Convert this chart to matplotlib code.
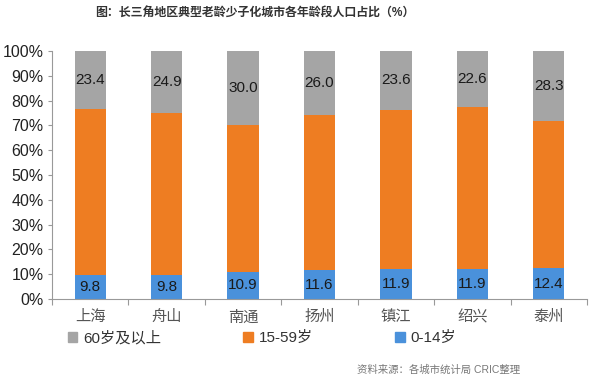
import matplotlib
matplotlib.use("Agg")
import matplotlib.pyplot as plt
from matplotlib.patches import Patch
import numpy as np

plt.rcParams['font.family'] = ['Liberation Sans', 'Noto Sans CJK SC', 'DejaVu Sans']

cities = ['上海', '舟山', '南通', '扬州', '镇江', '绍兴', '泰州']
kids = [9.8, 9.8, 10.9, 11.6, 11.9, 11.9, 12.4]      # 0-14岁
elders = [23.4, 24.9, 30.0, 26.0, 23.6, 22.6, 28.3]  # 60岁及以上
labels = ['60岁及以上', '15-59岁', '0-14岁']

kids = np.array(kids)
elders = np.array(elders)
mid = 100 - kids - elders

c_gray = '#A5A5A5'
c_orange = '#EE7D22'
c_blue = '#4A91DB'

fig = plt.figure(figsize=(6, 3.81), dpi=100)
ax = fig.add_axes([52/600, 1 - 299/381, 535/600, 248/381])

x = np.arange(len(cities))
w = 0.41
ax.bar(x, kids, w, color=c_blue)
ax.bar(x, mid, w, bottom=kids, color=c_orange)
ax.bar(x, elders, w, bottom=kids + mid, color=c_gray)

for i in range(len(cities)):
    ax.text(x[i], kids[i] / 2, '%.1f' % kids[i], ha='center', va='center',
            fontsize=11, color='#1a1a1a')
    ax.text(x[i], 100 - elders[i] / 2, '%.1f' % elders[i], ha='center', va='center',
            fontsize=11, color='#1a1a1a')

ax.set_xlim(-0.5, len(cities) - 0.5)
ax.set_ylim(0, 100)
ax.set_yticks(range(0, 101, 10))
ax.set_yticklabels(['%d%%' % v for v in range(0, 101, 10)], fontsize=11.5, color='#222222')
ax.set_xticks(np.arange(len(cities) + 1) - 0.5)
ax.set_xticklabels([])
ax.set_xticks(x, minor=True)
ax.set_xticklabels(cities, minor=True, fontsize=11, color='#555555')
ax.tick_params(axis='x', which='minor', length=0, pad=8)
ax.tick_params(axis='x', which='major', length=4, color='#999999')
ax.tick_params(axis='y', length=3, color='#999999', pad=3)
for s in ['top', 'right']:
    ax.spines[s].set_visible(False)
for s in ['left', 'bottom']:
    ax.spines[s].set_color('#999999')
    ax.spines[s].set_linewidth(0.8)

handles = [Patch(color=c_gray), Patch(color=c_orange), Patch(color=c_blue)]
fig.legend(handles, labels, loc='center', bbox_to_anchor=(262/600, 1 - 338/381),
           ncol=3, frameon=False, fontsize=11, handlelength=0.6, handleheight=0.6,
           handletextpad=0.4, columnspacing=5.4, labelcolor='#333333')

fig.text(255/600, 1 - 14/381, '图：长三角地区典型老龄少子化城市各年龄段人口占比（%）',
         ha='center', va='center', fontsize=8.6, fontweight='bold', color='#333333')
fig.text(520/600, 1 - 370/381, '资料来源：各城市统计局 CRIC整理',
         ha='right', va='center', fontsize=7.5, color='#777777')

fig.savefig('out.png', dpi=100)
